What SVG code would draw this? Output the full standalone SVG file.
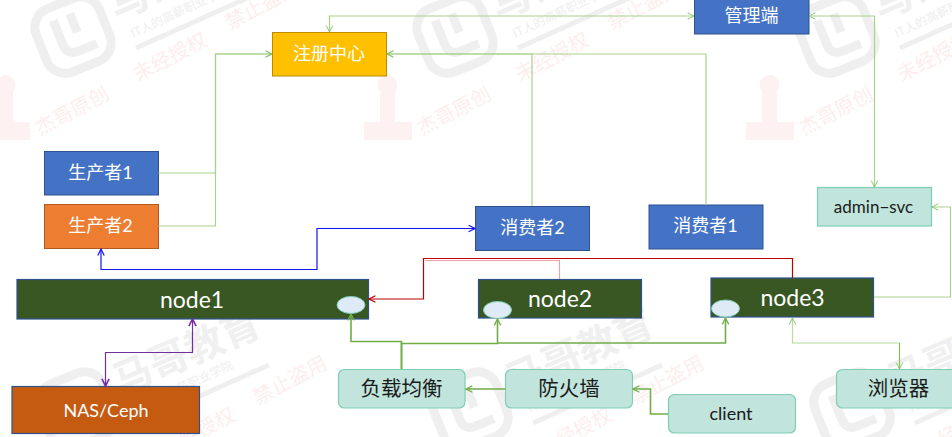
<svg xmlns="http://www.w3.org/2000/svg" width="952" height="437" viewBox="0 0 952 437">
<style>
text{font-family:"Lato","Noto Sans CJK SC",sans-serif;text-anchor:middle}
.lt{fill:#fff;font-size:18px}
.dk{fill:#1a1a1a;font-size:20.500px}
.big{fill:#fff;font-size:23px}
.blue{fill:#4472C4;stroke:#2F528F}
.yel{fill:#FFC000;stroke:#BC8C00}
.org{fill:#ED7D31;stroke:#AE5A21}
.dg{fill:#385723;stroke:#2F528F;stroke-width:1.2}
.nas{fill:#C55A11;stroke:#2F528F;stroke-width:1.2}
.teal{fill:#C1E5DC;stroke:#7FCDB5;stroke-width:1.2}
.ell{fill:#DEEBF7;stroke:#7FCDB5}
.c{fill:none;stroke-width:1.2}
.gl{stroke:#A9D18E}
.gm{stroke:#70AD47;stroke-width:1.6}
.wg{fill:#f0f0f0;font-weight:bold;font-size:39px;font-family:"Noto Sans CJK SC",sans-serif;text-anchor:start}
.wt{fill:#eeeeee;font-size:12px;font-family:"Noto Sans CJK SC",sans-serif;text-anchor:start}
.wp{fill:#fdeeee;font-size:20px;font-family:"Noto Sans CJK SC",sans-serif;text-anchor:start}
</style>
<defs>
<marker id="ag" viewBox="0 0 10 10" refX="9" refY="5" markerWidth="8" markerHeight="10" markerUnits="userSpaceOnUse" orient="auto-start-reverse"><path d="M1 1L9 5L1 9" fill="none" stroke="#84BD62" stroke-width="1.1"/></marker>
<marker id="am" viewBox="0 0 10 10" refX="9" refY="5" markerWidth="8" markerHeight="10" markerUnits="userSpaceOnUse" orient="auto-start-reverse"><path d="M1 1L9 5L1 9" fill="none" stroke="#70AD47" stroke-width="1.6"/></marker>
<marker id="ab" viewBox="0 0 10 10" refX="9" refY="5" markerWidth="8" markerHeight="10" markerUnits="userSpaceOnUse" orient="auto-start-reverse"><path d="M1 1L9 5L1 9" fill="none" stroke="#1414F0" stroke-width="1.5"/></marker>
<marker id="ar" viewBox="0 0 10 10" refX="9" refY="5" markerWidth="8" markerHeight="10" markerUnits="userSpaceOnUse" orient="auto-start-reverse"><path d="M1 1L9 5L1 9" fill="none" stroke="#C00000" stroke-width="1.6"/></marker>
<marker id="ap" viewBox="0 0 10 10" refX="9" refY="5" markerWidth="9" markerHeight="11" markerUnits="userSpaceOnUse" orient="auto-start-reverse"><path d="M1 1L9 5L1 9" fill="none" stroke="#7030A0" stroke-width="1.8"/></marker>
<g id="logo">
<g transform="rotate(-22 73 35)" fill="none" stroke="#efefef">
<rect x="39" y="1" width="68" height="68" rx="20" stroke-width="9"/>
<path d="M60 14V40Q60 52 72 52H92" stroke-width="9"/>
<path d="M78 14V34" stroke-width="9"/>
</g>
<text class="wg" transform="translate(116 20) rotate(-23)">马哥教育</text>
<text class="wt" transform="translate(133 38) rotate(-25)">IT人的高薪职业学院</text>
<path d="M136 48L265 -10" stroke="#efefef" stroke-width="5" fill="none"/>
</g>
<g id="seal">
<text class="wp" transform="translate(138 82) rotate(-28)">未经授权</text>
<text class="wp" transform="translate(230 30) rotate(-28)">禁止盗用</text>
</g>
<g id="stamp">
<text class="wp" transform="translate(40 136) rotate(-28)">杰哥原创</text>
<g fill="#fdf1f1"><circle cx="5.500" cy="85" r="10"/><rect x="-2" y="90" width="15" height="32"/><rect x="-18" y="122" width="48" height="18"/></g>
</g>
</defs>
<g id="watermark">
<use href="#logo"/><use href="#logo" x="382"/><use href="#logo" x="764"/>
<use href="#seal"/><use href="#seal" x="382"/><use href="#seal" x="764"/>
<use href="#stamp"/><use href="#stamp" x="382"/><use href="#stamp" x="764"/>
<use href="#logo" x="4" y="375"/><use href="#logo" x="397" y="375"/><use href="#logo" x="779" y="375"/>
<use href="#seal" x="28" y="375"/><use href="#seal" x="405" y="375"/><use href="#seal" x="787" y="375"/>
</g>
<g id="registry"><rect class="yel" x="272.500" y="32.500" width="114" height="43.500"/><text class="lt" x="329" y="60">注册中心</text></g>
<g id="admin"><rect class="blue" x="694.500" y="-1" width="114.500" height="35"/><text class="lt" x="751.500" y="22">管理端</text></g>
<g id="producer1"><rect class="blue" x="44.500" y="151.500" width="114" height="43.500"/><text class="lt" x="100.500" y="179">生产者1</text></g>
<g id="producer2"><rect class="org" x="44.500" y="204.500" width="114" height="44"/><text class="lt" x="100.500" y="232">生产者2</text></g>
<g id="consumer2"><rect class="blue" x="475.500" y="206.500" width="114" height="44"/><text class="lt" x="532.500" y="234">消费者2</text></g>
<g id="consumer1"><rect class="blue" x="649" y="205" width="114" height="44"/><text class="lt" x="705.500" y="232">消费者1</text></g>
<g id="adminsvc"><rect class="teal" x="817.500" y="187.500" width="114" height="38.500"/><text x="873.500" y="213" font-size="17" fill="#1a1a1a">admin−svc</text></g>
<g id="node1"><rect class="dg" x="17" y="279.500" width="351.500" height="39.500"/><text class="big" x="192" y="308">node1</text><ellipse class="ell" cx="351" cy="305" rx="14" ry="8.500"/></g>
<g id="node2"><rect class="dg" x="478.500" y="279.500" width="163" height="38.500"/><text class="big" x="560" y="307">node2</text><ellipse class="ell" cx="497.500" cy="310" rx="14" ry="8.500"/></g>
<g id="node3"><rect class="dg" x="711" y="278" width="162.500" height="39"/><text class="big" x="792.500" y="306">node3</text><ellipse class="ell" cx="725.500" cy="308.500" rx="14" ry="8.500"/></g>
<g id="nas"><rect class="nas" x="12" y="386.500" width="187.500" height="47"/><text x="106" y="417" font-size="18" fill="#fff">NAS/Ceph</text></g>
<g id="lb"><rect class="teal" x="338.500" y="369.500" width="126.500" height="38.500" rx="6"/><text class="dk" x="401.500" y="396">负载均衡</text></g>
<g id="firewall"><rect class="teal" x="505.500" y="369.500" width="127" height="38.500" rx="6"/><text class="dk" x="569" y="396">防火墙</text></g>
<g id="client"><rect class="teal" x="668.500" y="394.500" width="127" height="38.500" rx="6"/><text x="731" y="420" font-size="18" fill="#1a1a1a">client</text></g>
<g id="browser"><rect class="teal" x="836.500" y="369.500" width="127" height="38.500" rx="6"/><text class="dk" x="898.500" y="396">浏览器</text></g>
<g id="connectors">
<path class="c gl" d="M158.500 173H215.500V54H272" marker-end="url(#ag)"/>
<path class="c gl" d="M158.500 226H215.500V54H272" marker-end="url(#ag)"/>
<path class="c gl" d="M532 206V54H387" marker-end="url(#ag)"/>
<path class="c gl" d="M706 205V54H387" marker-end="url(#ag)"/>
<path class="c gl" d="M329.500 32V16H694" marker-start="url(#ag)" marker-end="url(#ag)"/>
<path class="c gl" d="M809 16H874.500V187" marker-start="url(#ag)" marker-end="url(#ag)"/>
<path class="c gl" d="M874 297H950.500V207H932" marker-end="url(#ag)"/>
<path class="c" stroke="#1414F0" stroke-width="1.400" d="M101 249V269.500H317V228.500H475" marker-start="url(#ab)" marker-end="url(#ab)"/>
<path class="c" stroke="#F0A0A8" stroke-width="1.300" d="M559.500 279V260.500H425"/>
<path class="c" stroke="#C00000" stroke-width="1.300" d="M792.500 278V258.500H423.500V299H369" marker-end="url(#ar)"/>
<path class="c" stroke="#7030A0" stroke-width="1.800" d="M105.500 386V352.500H192.500V319" marker-start="url(#ap)" marker-end="url(#ap)"/>
<path class="c gm" d="M401.500 369V341.500H351V314" marker-end="url(#am)"/>
<path class="c gm" d="M401.500 369V343.500H497.500V319" marker-end="url(#am)"/>
<path class="c gm" d="M497.500 343H725.500V318" marker-end="url(#am)"/>
<path class="c" stroke="#B5DBA0" stroke-width="1.300" d="M792.500 318V343H899.500" marker-start="url(#ag)"/>
<path class="c" stroke="#84BD62" d="M899.500 343V369" marker-end="url(#ag)"/>
<path class="c gm" d="M505.500 389H466" marker-end="url(#am)"/>
<path class="c gm" d="M668 414H650.500V389H633" marker-end="url(#am)"/>
</g>
</svg>
